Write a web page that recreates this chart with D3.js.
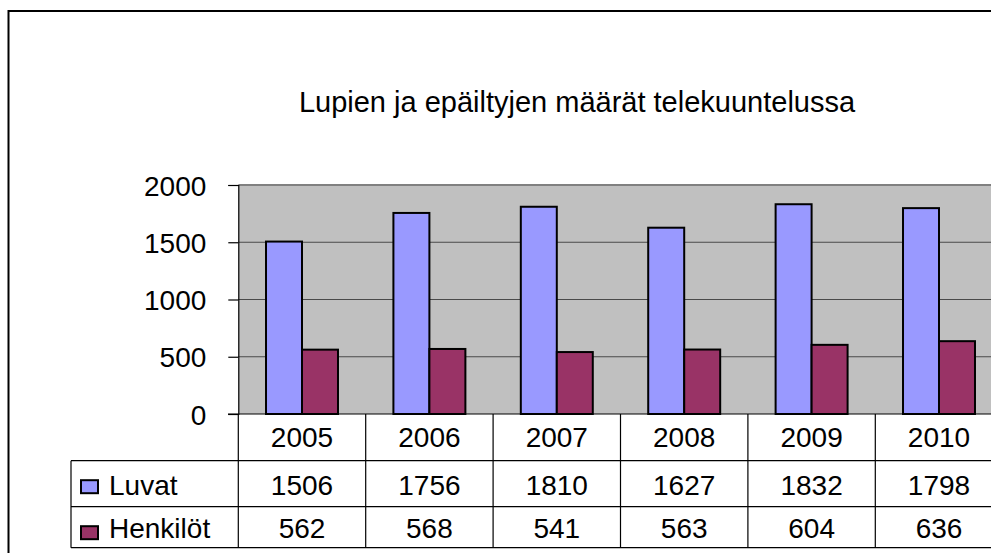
<!DOCTYPE html>
<html><head><meta charset="utf-8">
<script src="https://cdn.jsdelivr.net/npm/d3@7"></script>
<style>html,body{margin:0;padding:0;background:#fff;overflow:hidden}svg{display:block;font-family:"Liberation Sans",Arial,sans-serif}</style>
</head><body>
<svg id="c" width="991" height="553"></svg>
<script>
const title = "Lupien ja epäiltyjen määrät telekuuntelussa";
const years = ["2005","2006","2007","2008","2009","2010"];
const seriesNames = ["Luvat","Henkilöt"];
const luvat = [1506,1756,1810,1627,1832,1798];
const henkilot = [562,568,541,563,604,636];
const yTicks = [0,500,1000,1500,2000];
const colors = ["#9999FF","#993366"];

const seriesValues = [luvat, henkilot];
const svg = d3.select("#c");
const pLeft = 238.3, pRight = 1002.7, pTop = 185, pBottom = 414;
const tableLeft = 71, row1 = 460.7, row2 = 506.7, row3 = 547.7;

// outer frame
svg.append("rect").attr("x",8.5).attr("y",11).attr("width",1010).attr("height",560)
  .attr("fill","none").attr("stroke","#000").attr("stroke-width",2);

svg.append("text").attr("x",577).attr("y",112).attr("text-anchor","middle")
  .attr("font-size",29).text(title);

const x0 = d3.scaleBand().domain(years).range([pLeft,pRight]).paddingInner(0).paddingOuter(0);
const x1 = d3.scaleBand().domain(seriesNames).range([0,x0.bandwidth()]).paddingInner(0).paddingOuter(0.77);
const y = d3.scaleLinear().domain([0,2000]).range([pBottom,pTop]);

// plot background
svg.append("rect").attr("x",pLeft).attr("y",pTop).attr("width",pRight-pLeft).attr("height",pBottom-pTop).attr("fill","#C0C0C0");
// grid
svg.append("g").selectAll("line").data(yTicks.filter(d=>d>0)).join("line")
  .attr("x1",pLeft).attr("x2",pRight).attr("y1",d=>y(d)).attr("y2",d=>y(d))
  .attr("stroke",d=>d===2000?"#808080":"#4a4a4a").attr("stroke-width",d=>d===2000?2:1.2);

// y axis
const yAxis = d3.axisLeft(y).tickValues(yTicks).tickSize(10).tickPadding(22).tickFormat(d3.format("d"));
const ga = svg.append("g").attr("transform",`translate(${pLeft},0)`).call(yAxis);
ga.select(".domain").attr("stroke","#000").attr("stroke-width",1.2);
ga.selectAll(".tick line").attr("stroke","#000").attr("stroke-width",1.2);
ga.selectAll(".tick text").attr("font-size",28).attr("font-family","Liberation Sans, Arial, sans-serif").attr("fill","#000").attr("dy","0.36em");

// bars
const groups = svg.append("g").selectAll("g").data(years).join("g")
  .attr("transform",d=>`translate(${x0(d)},0)`);
groups.selectAll("rect").data((d,i)=>seriesNames.map((s,j)=>({s,j,v:seriesValues[j][i]}))).join("rect")
  .attr("x",d=>x1(d.s)).attr("width",x1.bandwidth())
  .attr("y",d=>y(d.v)).attr("height",d=>y(0)-y(d.v))
  .attr("fill",d=>colors[d.j]).attr("stroke","#000").attr("stroke-width",2);

// baseline
svg.append("line").attr("x1",228).attr("x2",pRight).attr("y1",pBottom).attr("y2",pBottom).attr("stroke","#000").attr("stroke-width",1.2);

// table lines
const tl = svg.append("g").attr("stroke","#000").attr("stroke-width",1.2);
[row1,row2,row3].forEach(yy=>tl.append("line").attr("x1",tableLeft).attr("x2",pRight).attr("y1",yy).attr("y2",yy));
tl.append("line").attr("x1",tableLeft).attr("x2",tableLeft).attr("y1",row1).attr("y2",row3);
years.concat(["end"]).forEach((yr,i)=>{
  const xx = i<years.length ? x0(yr) : pRight;
  tl.append("line").attr("x1",xx).attr("x2",xx).attr("y1",pBottom).attr("y2",row3);
});

// year labels
svg.append("g").selectAll("text").data(years).join("text")
  .attr("x",d=>x0(d)+x0.bandwidth()/2).attr("y",446.7).attr("text-anchor","middle")
  .attr("font-size",28).text(d=>d);

const rowBase = [495,538.3];
const rowTop = [row1,row2];
seriesNames.forEach((s,j)=>{
  svg.append("g").selectAll("text").data(seriesValues[j]).join("text")
    .attr("x",(d,i)=>x0(years[i])+x0.bandwidth()/2).attr("y",rowBase[j]).attr("text-anchor","middle")
    .attr("font-size",28).text(d=>d);
  svg.append("rect").attr("x",81).attr("y",rowTop[j]+19.5).attr("width",17).attr("height",13)
    .attr("fill",colors[j]).attr("stroke","#000").attr("stroke-width",2);
  svg.append("text").attr("x",109).attr("y",rowBase[j]).attr("font-size",28).text(s);
});
</script>
</body></html>
